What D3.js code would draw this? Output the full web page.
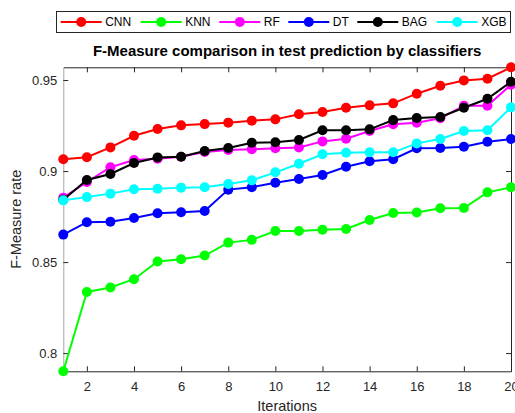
<!DOCTYPE html>
<html>
  <head>
    <style>
      body { margin: 0; background: #fff; }
      svg { font-family: Arial, 'Liberation Sans', Helvetica, sans-serif; }
    </style>
    <script src="https://d3js.org/d3.v7.min.js"></script>
  </head>
  <body>
    <svg id="chart" width="515" height="413"></svg>
    <script>
      var iterations = d3.range(1, 21);
      var seriesNames = ['CNN', 'KNN', 'RF', 'DT', 'BAG', 'XGB'];
      var seriesColors = ['#ff0000', '#00ff00', '#ff00ff', '#0000ff', '#000000', '#00ffff'];

      var cnn = [0.9065, 0.9076, 0.9130, 0.9194, 0.9231, 0.9251, 0.9258, 0.9266, 0.9277, 0.9284,
                 0.9312, 0.9324, 0.9348, 0.9361, 0.9372, 0.9425, 0.9469, 0.9498, 0.9507, 0.9570];
      var knn = [0.7900, 0.8336, 0.8360, 0.8406, 0.8503, 0.8516, 0.8536, 0.8607, 0.8622, 0.8671,
                 0.8671, 0.8678, 0.8682, 0.8731, 0.8770, 0.8772, 0.8796, 0.8797, 0.8883, 0.8911];
      var rf  = [0.8854, 0.8940, 0.9021, 0.9061, 0.9068, 0.9079, 0.9105, 0.9116, 0.9120, 0.9125,
                 0.9129, 0.9163, 0.9178, 0.9220, 0.9257, 0.9266, 0.9290, 0.9359, 0.9359, 0.9474];
      var dt  = [0.8651, 0.8719, 0.8722, 0.8742, 0.8768, 0.8774, 0.8781, 0.8898, 0.8911, 0.8936,
                 0.8956, 0.8978, 0.9024, 0.9054, 0.9065, 0.9125, 0.9127, 0.9134, 0.9161, 0.9176];
      var bag = [0.8842, 0.8951, 0.8984, 0.9044, 0.9075, 0.9079, 0.9110, 0.9127, 0.9156, 0.9158,
                 0.9171, 0.9224, 0.9224, 0.9229, 0.9280, 0.9291, 0.9297, 0.9348, 0.9397, 0.9491];
      var xgb = [0.8839, 0.8857, 0.8876, 0.8900, 0.8903, 0.8909, 0.8911, 0.8929, 0.8949, 0.8993,
                 0.9040, 0.9092, 0.9101, 0.9103, 0.9103, 0.9152, 0.9176, 0.9220, 0.9224, 0.9350];

      var xTicks = d3.range(2, 21, 2);
      var yTicks = [0.8, 0.85, 0.9, 0.95];

      var series = [cnn, knn, rf, dt, bag, xgb].map(function (vals, i) {
        return {
          name: seriesNames[i],
          color: seriesColors[i],
          values: vals.map(function (v, j) { return { x: iterations[j], y: v }; })
        };
      });

      var svg = d3.select('#chart');
      var margin = { top: 67.3, right: 4, bottom: 41.7, left: 63.3 };
      var width = +svg.attr('width') - margin.left - margin.right;
      var height = +svg.attr('height') - margin.top - margin.bottom;

      var x = d3.scaleLinear().domain([1, 20]).range([margin.left, margin.left + width]);
      var y = d3.scaleLinear().domain([0.79, 0.957]).range([margin.top + height, margin.top]);

      // axes box with inward ticks
      var xAxis = svg.append('g')
        .attr('transform', 'translate(0,' + (margin.top + height) + ')')
        .call(d3.axisBottom(x).tickValues(xTicks).tickFormat(d3.format('d'))
          .tickSizeInner(-5).tickSizeOuter(0).tickPadding(10));

      var xAxisTop = svg.append('g')
        .attr('transform', 'translate(0,' + margin.top + ')')
        .call(d3.axisTop(x).tickValues(xTicks).tickFormat('')
          .tickSizeInner(-5).tickSizeOuter(0));

      var yAxis = svg.append('g')
        .attr('transform', 'translate(' + margin.left + ',0)')
        .call(d3.axisLeft(y).tickValues(yTicks).tickFormat(d3.format('')).tickSizeInner(-5)
          .tickSizeOuter(0).tickPadding(6));

      var yAxisRight = svg.append('g')
        .attr('transform', 'translate(' + (margin.left + width) + ',0)')
        .call(d3.axisRight(y).tickValues(yTicks).tickFormat('').tickSizeInner(-5).tickSizeOuter(0));

      svg.selectAll('.tick line').attr('stroke', '#262626');
      svg.selectAll('.domain').attr('stroke', '#262626');
      yAxis.select('.domain').attr('stroke', '#a6a6a6');
      svg.selectAll('.tick text')
        .attr('fill', '#262626')
        .style('font-size', '13px')
        .style('font-family', 'Arial, "Liberation Sans", Helvetica, sans-serif');

      // lines and markers
      var line = d3.line().x(function (d) { return x(d.x); }).y(function (d) { return y(d.y); });

      var groups = svg.selectAll('g.series')
        .data(series)
        .enter()
        .append('g')
        .attr('class', 'series');

      groups.append('path')
        .attr('fill', 'none')
        .attr('stroke', function (d) { return d.color; })
        .attr('stroke-width', 2)
        .attr('d', function (d) { return line(d.values); });

      groups.selectAll('circle')
        .data(function (d) { return d.values.map(function (v) { return { x: v.x, y: v.y, color: d.color }; }); })
        .enter()
        .append('circle')
        .attr('cx', function (d) { return x(d.x); })
        .attr('cy', function (d) { return y(d.y); })
        .attr('r', 5)
        .attr('fill', function (d) { return d.color; });

      // title and labels
      svg.append('text')
        .attr('x', margin.left + width / 2)
        .attr('y', 56)
        .attr('text-anchor', 'middle')
        .style('font-size', '15px')
        .style('font-weight', 'bold')
        .text('F-Measure comparison in test prediction by classifiers');

      svg.append('text')
        .attr('x', margin.left + width / 2)
        .attr('y', 411)
        .attr('text-anchor', 'middle')
        .attr('fill', '#262626')
        .style('font-size', '14.5px')
        .text('Iterations');

      svg.append('text')
        .attr('transform', 'translate(21,' + (margin.top + height / 2) + ') rotate(-90)')
        .attr('text-anchor', 'middle')
        .attr('fill', '#262626')
        .style('font-size', '14.5px')
        .text('F-Measure rate');

      // legend
      var legendX = [60.7, 140.7, 219.3, 288.3, 357.3, 436.7];
      var legend = svg.append('g');
      legend.append('rect')
        .attr('x', 56.5).attr('y', 11.5)
        .attr('width', 454).attr('height', 21)
        .attr('fill', '#fff')
        .attr('stroke', '#262626');

      var items = legend.selectAll('g.item')
        .data(series)
        .enter()
        .append('g')
        .attr('class', 'item')
        .attr('transform', function (d, i) { return 'translate(' + legendX[i] + ',22)'; });

      items.append('line')
        .attr('x1', 0).attr('x2', 41)
        .attr('stroke', function (d) { return d.color; })
        .attr('stroke-width', 2);
      items.append('circle')
        .attr('cx', 20.5).attr('r', 5)
        .attr('fill', function (d) { return d.color; });
      items.append('text')
        .attr('x', 44.5).attr('dy', '0.35em')
        .attr('fill', '#000')
        .style('font-size', '12px')
        .text(function (d) { return d.name; });
    </script>
  </body>
</html>
